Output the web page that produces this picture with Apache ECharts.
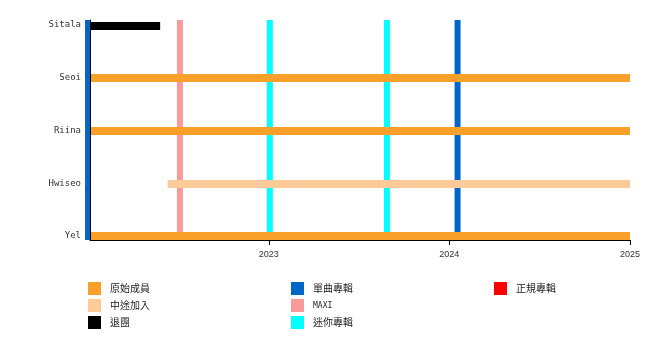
<!DOCTYPE html>
<html><head><meta charset="utf-8">
<script src="https://cdn.jsdelivr.net/npm/echarts@6/dist/echarts.min.js"></script>
<style>html,body{margin:0;padding:0;background:#fff}#c{width:650px;height:350px}</style>
</head><body><div id="c"></div>
<script>
// Members, bottom to top (row index 0 = Yel)
const members = ['Yel', 'Hwiseo', 'Riina', 'Seoi', 'Sitala'];
const axisStart = '2022-01-04';
const axisEnd = '2025-01-01';
const tickYears = ['2023-01-01', '2024-01-01', '2025-01-01'];

// Membership periods: [member, start, end]
const originalMembers = [
  ['Yel', '2022-01-04', '2025-01-01'],
  ['Riina', '2022-01-04', '2025-01-01'],
  ['Seoi', '2022-01-04', '2025-01-01']
];
const joinedLater = [
  ['Hwiseo', '2022-06-08', '2025-01-01']
];
const leftGroup = [
  ['Sitala', '2022-01-04', '2022-05-26']
];

// Releases
const singleAlbums = ['2021-12-31', '2024-01-18'];
const maxiReleases = ['2022-07-05'];
const miniAlbums = ['2023-01-03', '2023-08-28'];
const studioAlbums = [];

const ts = d => new Date(d + 'T00:00:00Z').getTime();

function barSeries(name, color, rows) {
  return {
    name, type: 'custom', z: 5, clip: false,
    itemStyle: { color },
    encode: { x: [1, 2], y: 0 },
    data: rows.map(r => [members.indexOf(r[0]), ts(r[1]), ts(r[2])]),
    renderItem: (params, api) => {
      const a = api.coord([api.value(1), api.value(0)]);
      const b = api.coord([api.value(2), api.value(0)]);
      const y = Math.round(a[1] - 3.5);
      return { type: 'rect', shape: { x: a[0] + 1, y: y, width: b[0] - a[0] - 1, height: 8 },
        style: { fill: color } };
    }
  };
}
function lineSeries(name, color, dates) {
  return {
    name, type: 'custom', z: 2, clip: false,
    itemStyle: { color },
    encode: { x: 0 },
    data: dates.map(d => [ts(d)]),
    renderItem: (params, api) => {
      const top = api.coord([api.value(0), 4.095]);
      const bot = api.coord([api.value(0), -0.076]);
      return { type: 'rect', shape: { x: top[0] - 3, y: top[1], width: 6, height: bot[1] - top[1] },
        style: { fill: color } };
    }
  };
}

const cOrange = '#F8A02A', cPeach = '#FDCA98', cBlack = '#000000';
const cBlue = '#0066C8', cPink = '#F99A9A', cCyan = '#00FFFF', cRed = '#FF0000';

const chart = echarts.init(document.getElementById('c'), null, { renderer: 'canvas' });
const legendBase = {
  orient: 'vertical', itemWidth: 13, itemHeight: 13, itemGap: 4, icon: 'rect',
  selectedMode: false, padding: 0,
  textStyle: { fontFamily: 'Noto Sans CJK TC', fontSize: 10, color: '#222', padding: [0, 0, 0, 4],
    rich: { m: { fontFamily: 'DejaVu Sans Mono', fontSize: 8, color: '#222' } } },
  formatter: n => n === 'MAXI' ? '{m|MAXI}' : n
};
chart.setOption({
  animation: false,
  grid: { left: 90, right: 20, top: 20, bottom: 110 },
  xAxis: {
    type: 'value', min: ts(axisStart), max: ts(axisEnd), z: 10,
    axisLine: { onZero: false, lineStyle: { color: '#000', width: 1 } },
    axisTick: { customValues: tickYears.map(ts), length: 5, lineStyle: { color: '#000' } },
    axisLabel: { customValues: tickYears.map(ts), formatter: v => String(new Date(v).getUTCFullYear()),
      fontFamily: 'Liberation Sans', fontSize: 9, color: '#333', margin: 10 },
    splitLine: { show: false }
  },
  yAxis: {
    type: 'value', min: -0.076, max: 4.095, z: 10,
    axisLine: { show: true, onZero: false, lineStyle: { color: '#000', width: 1 } },
    axisTick: { show: false },
    axisLabel: { customValues: [0, 1, 2, 3, 4], formatter: v => members[Math.round(v)],
      fontFamily: 'DejaVu Sans Mono', fontSize: 9, color: '#333', margin: 9 },
    splitLine: { show: false }
  },
  legend: [
    Object.assign({}, legendBase, { left: 88, top: 282, data: ['原始成員', '中途加入', '退團'] }),
    Object.assign({}, legendBase, { left: 291, top: 282, data: ['單曲專輯', 'MAXI', '迷你專輯'] }),
    Object.assign({}, legendBase, { left: 494, top: 282, data: ['正規專輯'] })
  ],
  series: [
    lineSeries('單曲專輯', cBlue, singleAlbums),
    lineSeries('MAXI', cPink, maxiReleases),
    lineSeries('迷你專輯', cCyan, miniAlbums),
    lineSeries('正規專輯', cRed, studioAlbums),
    barSeries('原始成員', cOrange, originalMembers),
    barSeries('中途加入', cPeach, joinedLater),
    barSeries('退團', cBlack, leftGroup)
  ]
});
</script></body></html>
